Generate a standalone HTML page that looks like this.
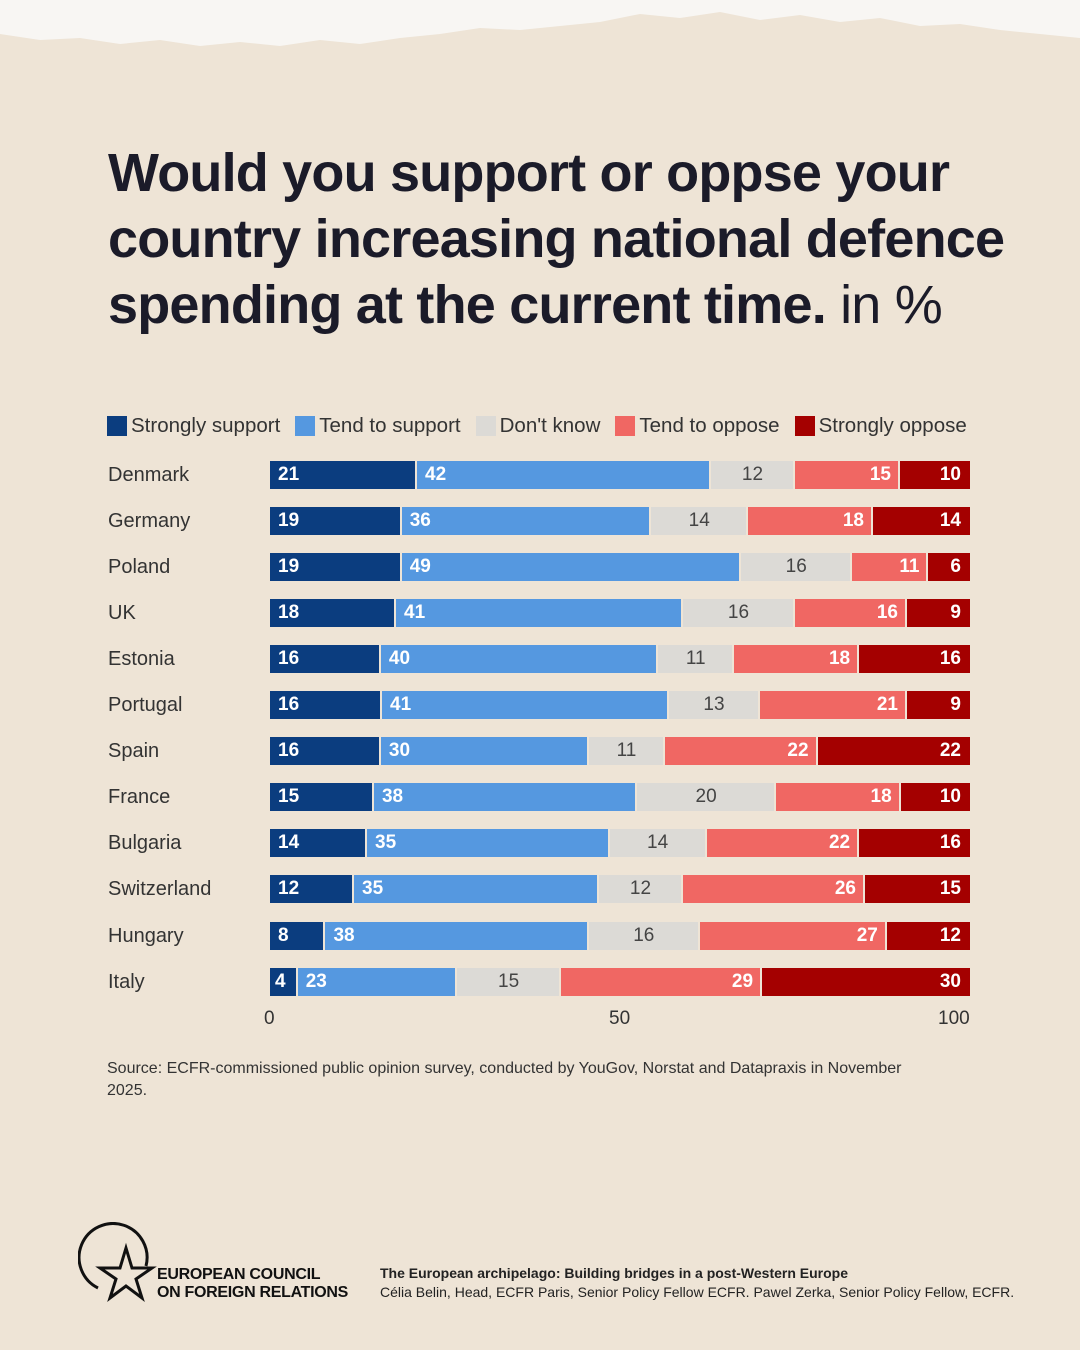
<!DOCTYPE html>
<html><head><meta charset="utf-8"><style>
*{margin:0;padding:0;box-sizing:border-box}
body{width:1080px;height:1350px;position:relative;background:#eee4d6;font-family:"Liberation Sans",sans-serif;overflow:hidden;color:#1c1c28}
.title{position:absolute;left:108px;top:140px;font-size:54px;font-weight:bold;line-height:66px;letter-spacing:-0.8px;color:#1b1b29;width:980px}
.title span{font-weight:normal}
.legend{position:absolute;left:107px;top:414px;font-size:20.5px;color:#333;display:flex;align-items:center;white-space:nowrap}
.legend i{display:inline-block;width:20px;height:20px;margin-right:4px;vertical-align:middle}
.legend b{font-weight:normal;margin-right:15px}
.row{position:absolute;left:0;width:1080px;height:28px}
.row .c{position:absolute;left:108px;top:0;line-height:28px;font-size:20px;color:#333}
.bar{position:absolute;left:270px;width:700px;height:28px;display:flex}
.bar div{flex-basis:0;min-width:0;height:28px;line-height:28px;font-size:19px;font-weight:bold;color:#fff;box-shadow:inset -2px 0 #eee4d6;overflow:hidden;white-space:nowrap}
.bar div:last-child{box-shadow:none}
.bar span{display:block;padding:0 9px 0 8px}
.s1{background:#0b3d7f;text-align:left}
.s2{background:#5598e0;text-align:left}
.s3{background:#dcdad6;color:#444!important;text-align:center;font-weight:normal!important}
.s4{background:#f06763;text-align:right}
.s5{background:#a40000;text-align:right}
.tick{position:absolute;top:1008px;font-size:19px;color:#333}
.src{position:absolute;left:107px;top:1058px;font-size:16px;line-height:22px;color:#333;width:800px}
.logo{position:absolute;left:157px;top:1266px;font-size:16px;font-weight:bold;line-height:18px;color:#111;letter-spacing:-0.3px}
.ref{position:absolute;left:380px;top:1264px;font-size:14px;line-height:19px;color:#222}
</style></head><body>
<svg style="position:absolute;left:0;top:0" width="1080" height="60"><polygon fill="#f8f6f3" points="0,0 1080,0 1080,38 1040,34 1000,30 960,24 920,26 880,18 840,22 800,15 760,20 720,12 680,18 640,14 600,22 560,26 520,30 480,28 440,34 400,38 360,44 320,40 280,46 240,42 200,46 160,40 120,44 80,38 40,40 0,34"/></svg>
<div class="title">Would you support or oppse your country increasing national defence spending at the current time. <span>in %</span></div>
<div class="legend"><i style="background:#0b3d7f"></i><b>Strongly support</b><i style="background:#5598e0"></i><b>Tend to support</b><i style="background:#dcdad6"></i><b>Don't know</b><i style="background:#f06763"></i><b>Tend to oppose</b><i style="background:#a40000"></i><b>Strongly oppose</b></div>

<div class="row" style="top:461px"><div class="c">Denmark</div><div class="bar"><div class="s1" style="flex-grow:21"><span>21</span></div><div class="s2" style="flex-grow:42"><span>42</span></div><div class="s3" style="flex-grow:12"><span>12</span></div><div class="s4" style="flex-grow:15"><span>15</span></div><div class="s5" style="flex-grow:10"><span>10</span></div></div></div>
<div class="row" style="top:507px"><div class="c">Germany</div><div class="bar"><div class="s1" style="flex-grow:19"><span>19</span></div><div class="s2" style="flex-grow:36"><span>36</span></div><div class="s3" style="flex-grow:14"><span>14</span></div><div class="s4" style="flex-grow:18"><span>18</span></div><div class="s5" style="flex-grow:14"><span>14</span></div></div></div>
<div class="row" style="top:553px"><div class="c">Poland</div><div class="bar"><div class="s1" style="flex-grow:19"><span>19</span></div><div class="s2" style="flex-grow:49"><span>49</span></div><div class="s3" style="flex-grow:16"><span>16</span></div><div class="s4" style="flex-grow:11"><span>11</span></div><div class="s5" style="flex-grow:6"><span>6</span></div></div></div>
<div class="row" style="top:599px"><div class="c">UK</div><div class="bar"><div class="s1" style="flex-grow:18"><span>18</span></div><div class="s2" style="flex-grow:41"><span>41</span></div><div class="s3" style="flex-grow:16"><span>16</span></div><div class="s4" style="flex-grow:16"><span>16</span></div><div class="s5" style="flex-grow:9"><span>9</span></div></div></div>
<div class="row" style="top:645px"><div class="c">Estonia</div><div class="bar"><div class="s1" style="flex-grow:16"><span>16</span></div><div class="s2" style="flex-grow:40"><span>40</span></div><div class="s3" style="flex-grow:11"><span>11</span></div><div class="s4" style="flex-grow:18"><span>18</span></div><div class="s5" style="flex-grow:16"><span>16</span></div></div></div>
<div class="row" style="top:691px"><div class="c">Portugal</div><div class="bar"><div class="s1" style="flex-grow:16"><span>16</span></div><div class="s2" style="flex-grow:41"><span>41</span></div><div class="s3" style="flex-grow:13"><span>13</span></div><div class="s4" style="flex-grow:21"><span>21</span></div><div class="s5" style="flex-grow:9"><span>9</span></div></div></div>
<div class="row" style="top:737px"><div class="c">Spain</div><div class="bar"><div class="s1" style="flex-grow:16"><span>16</span></div><div class="s2" style="flex-grow:30"><span>30</span></div><div class="s3" style="flex-grow:11"><span>11</span></div><div class="s4" style="flex-grow:22"><span>22</span></div><div class="s5" style="flex-grow:22"><span>22</span></div></div></div>
<div class="row" style="top:783px"><div class="c">France</div><div class="bar"><div class="s1" style="flex-grow:15"><span>15</span></div><div class="s2" style="flex-grow:38"><span>38</span></div><div class="s3" style="flex-grow:20"><span>20</span></div><div class="s4" style="flex-grow:18"><span>18</span></div><div class="s5" style="flex-grow:10"><span>10</span></div></div></div>
<div class="row" style="top:829px"><div class="c">Bulgaria</div><div class="bar"><div class="s1" style="flex-grow:14"><span>14</span></div><div class="s2" style="flex-grow:35"><span>35</span></div><div class="s3" style="flex-grow:14"><span>14</span></div><div class="s4" style="flex-grow:22"><span>22</span></div><div class="s5" style="flex-grow:16"><span>16</span></div></div></div>
<div class="row" style="top:875px"><div class="c">Switzerland</div><div class="bar"><div class="s1" style="flex-grow:12"><span>12</span></div><div class="s2" style="flex-grow:35"><span>35</span></div><div class="s3" style="flex-grow:12"><span>12</span></div><div class="s4" style="flex-grow:26"><span>26</span></div><div class="s5" style="flex-grow:15"><span>15</span></div></div></div>
<div class="row" style="top:922px"><div class="c">Hungary</div><div class="bar"><div class="s1" style="flex-grow:8"><span>8</span></div><div class="s2" style="flex-grow:38"><span>38</span></div><div class="s3" style="flex-grow:16"><span>16</span></div><div class="s4" style="flex-grow:27"><span>27</span></div><div class="s5" style="flex-grow:12"><span>12</span></div></div></div>
<div class="row" style="top:968px"><div class="c">Italy</div><div class="bar"><div class="s1" style="flex-grow:4"><span style="padding:0 3px 0 5px">4</span></div><div class="s2" style="flex-grow:23"><span>23</span></div><div class="s3" style="flex-grow:15"><span>15</span></div><div class="s4" style="flex-grow:29"><span>29</span></div><div class="s5" style="flex-grow:30"><span>30</span></div></div></div>

<div class="tick" style="left:264px">0</div>
<div class="tick" style="left:609px">50</div>
<div class="tick" style="left:938px">100</div>
<div class="src">Source: ECFR-commissioned public opinion survey, conducted by YouGov, Norstat and Datapraxis in November 2025.</div>

<svg style="position:absolute;left:78px;top:1222px" width="80" height="80" viewBox="0 0 80 80"><path d="M20,66 A34,34 0 1 1 68,44" fill="none" stroke="#111" stroke-width="3"/><polygon points="48,26 54,46 74,46 58,57 64,76 48,64 32,76 38,57 22,46 42,46" fill="none" stroke="#111" stroke-width="3"/></svg>
<div class="logo">EUROPEAN COUNCIL<br>ON FOREIGN RELATIONS</div>
<div class="ref"><b>The European archipelago: Building bridges in a post-Western Europe</b><br>Célia Belin, Head, ECFR Paris, Senior Policy Fellow ECFR. Pawel Zerka, Senior Policy Fellow, ECFR.</div>
</body></html>
